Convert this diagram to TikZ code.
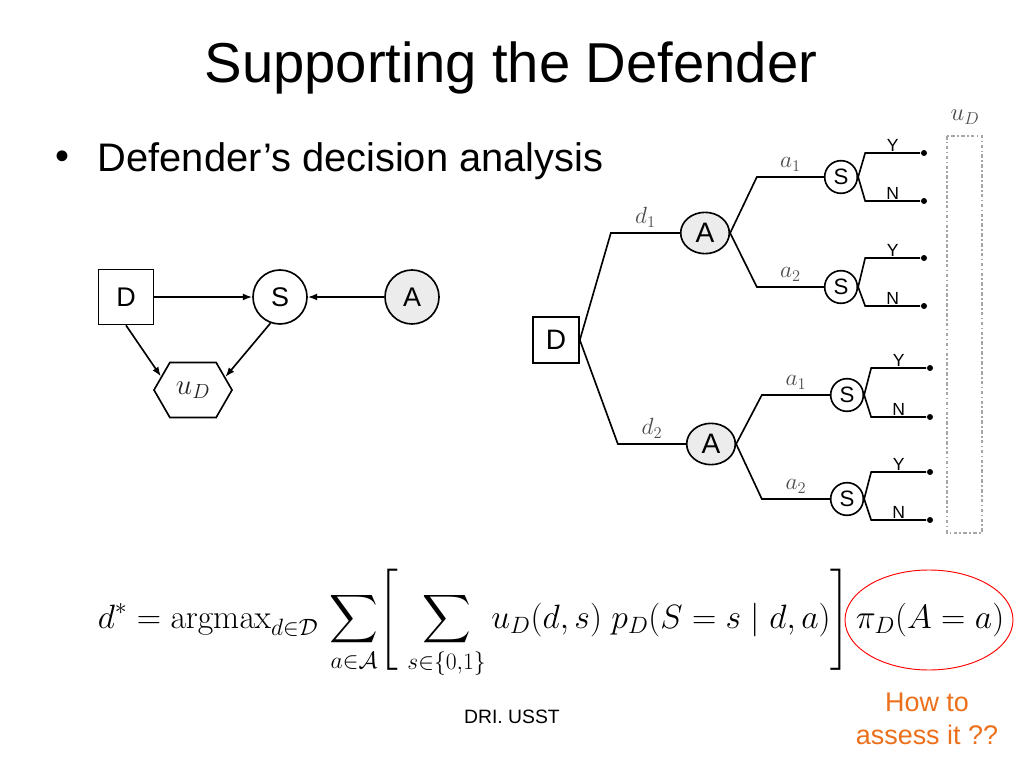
\RequirePackage{fix-cm}
\documentclass[tikz,border=0pt]{standalone}
\usepackage{amsmath,amssymb}
\usepackage[no-math]{fontspec}
\setmainfont{Liberation Sans}
\usepackage{xcolor}
\usepackage{tikz}
\usetikzlibrary{positioning,arrows.meta,calc,shapes.geometric,shapes.symbols}

\definecolor{howorange}{RGB}{236,112,28}
\newcommand{\fs}[1]{\fontsize{#1}{1.2\dimexpr#1pt\relax}\selectfont}

\begin{document}
\begin{tikzpicture}[x=0.03cm,y=-0.03cm,line width=1.4pt,
  chance/.style={draw,circle,inner sep=0pt,minimum size=#1,fill=white},
  decbox/.style={draw,rectangle,inner sep=0pt,minimum size=#1},
  oval/.style={draw,ellipse,inner sep=0pt,minimum width=1.46cm,minimum height=1.24cm,fill=gray!15},
  dot/.style={circle,fill,inner sep=0pt,minimum size=0.18cm},
  lbl/.style={above=1pt,text=black!70,font=\fs{20}},
  yn/.style={above=0pt,inner sep=1pt,font=\fs{15}},
  branch/.style={to path={-- ($(\tikztotarget.west)+(-#1,0)$) -- (\tikztotarget.west) \tikztonodes}},
  arr/.style={-{Latex[length=8pt,width=6pt]}}]
\fill[white] (0,0) rectangle (1024,768);
\useasboundingbox (0,0) rectangle (1024,768);

% title and bullet
\node[anchor=base,font=\fs{48}] (title) at (511,83) {Supporting the Defender};
\node[font=\fs{34}] (bul) at (62,160) {•};
\node[anchor=base west,font=\fs{34}] (item) at (93,172) {Defender’s decision analysis};

% influence diagram
\node[decbox=1.65cm,font=\fs{23}] (ld) at (126,297) {D};
\node[chance=1.62cm,font=\fs{23}] (ls) at (280,297) {S};
\node[chance=1.62cm,fill=gray!15,font=\fs{23}] (la) at (412,297) {A};
\node[draw,signal,signal to=east and west,signal pointer angle=120,inner sep=0pt,
  minimum width=2.34cm,minimum height=1.65cm,text=black!85,font=\fs{25}] (lu) at (193,390) {$u_D$};
\draw[arr] (ld) -- (ls);
\draw[arr] (la) -- (ls);
\draw[arr] (ld.south) -- (lu.157);
\draw[arr] (ls.-110) -- (lu.22);

% decision tree
\node[decbox=1.38cm,font=\fs{24}] (td) at (556,340) {D};
\node[oval,font=\fs{24}] (a1) at (705,233) {A};
\node[oval,font=\fs{24}] (a2) at (711,444) {A};
\node[chance=0.98cm,font=\fs{19}] (s1) at (841,177) {S};
\node[chance=0.98cm,font=\fs{19}] (s2) at (841,287) {S};
\node[chance=0.98cm,font=\fs{19}] (s3) at (847,395) {S};
\node[chance=0.98cm,font=\fs{19}] (s4) at (847,499) {S};
\node[dot] (y1) at (924,153) {};
\node[dot] (n1) at (924,201) {};
\node[dot] (y2) at (924,258) {};
\node[dot] (n2) at (924,306) {};
\node[dot] (y3) at (930,368) {};
\node[dot] (n3) at (930,417) {};
\node[dot] (y4) at (930,472) {};
\node[dot] (n4) at (930,520) {};

\draw (td.east) to[branch=69] node[lbl]{$d_1$} (a1);
\draw (td.east) to[branch=68] node[lbl]{$d_2$} (a2);
\draw (a1.east) to[branch=67] node[lbl]{$a_1$} (s1);
\draw (a1.east) to[branch=67] node[lbl]{$a_2$} (s2);
\draw (a2.east) to[branch=68] node[lbl]{$a_1$} (s3);
\draw (a2.east) to[branch=68] node[lbl]{$a_2$} (s4);
\foreach \s/\y/\n in {s1/y1/n1,s2/y2/n2,s3/y3/n3,s4/y4/n4} {
  \draw (\s.east) to[branch=55] node[yn]{Y} (\y);
  \draw (\s.east) to[branch=55] node[yn]{N} (\n);
}

% utility column
\draw[dash dot,gray!70,line width=0.9pt] (947,136) rectangle (982,533);
\node[text=black!70,font=\fs{21}] (ut) at (965,117) {$u_D$};

% formula
\node[anchor=base west,inner sep=0pt,font=\fs{28.8}] (eq) at (97,628)
  {$\displaystyle d^* = \mathrm{argmax}_{d\in\mathcal{D}}\, \sum_{a\in\mathcal{A}}
   \Biggl[\; \sum_{s\in\{0,1\}} u_D(d,s)\; p_D(S=s\mid d,a) \Biggr]\, \pi_D(A=a)$};
\node[draw=red,ellipse,line width=0.8pt,minimum width=5.04cm,minimum height=3cm] (ring) at (929,620) {};

% footer
\node[font=\fs{16.5}] (foot) at (512,717) {DRI. USST};
\node[align=center,text=howorange,font=\fs{23}] (ask) at (927,719) {How to\\assess it ??};
\end{tikzpicture}
\end{document}
